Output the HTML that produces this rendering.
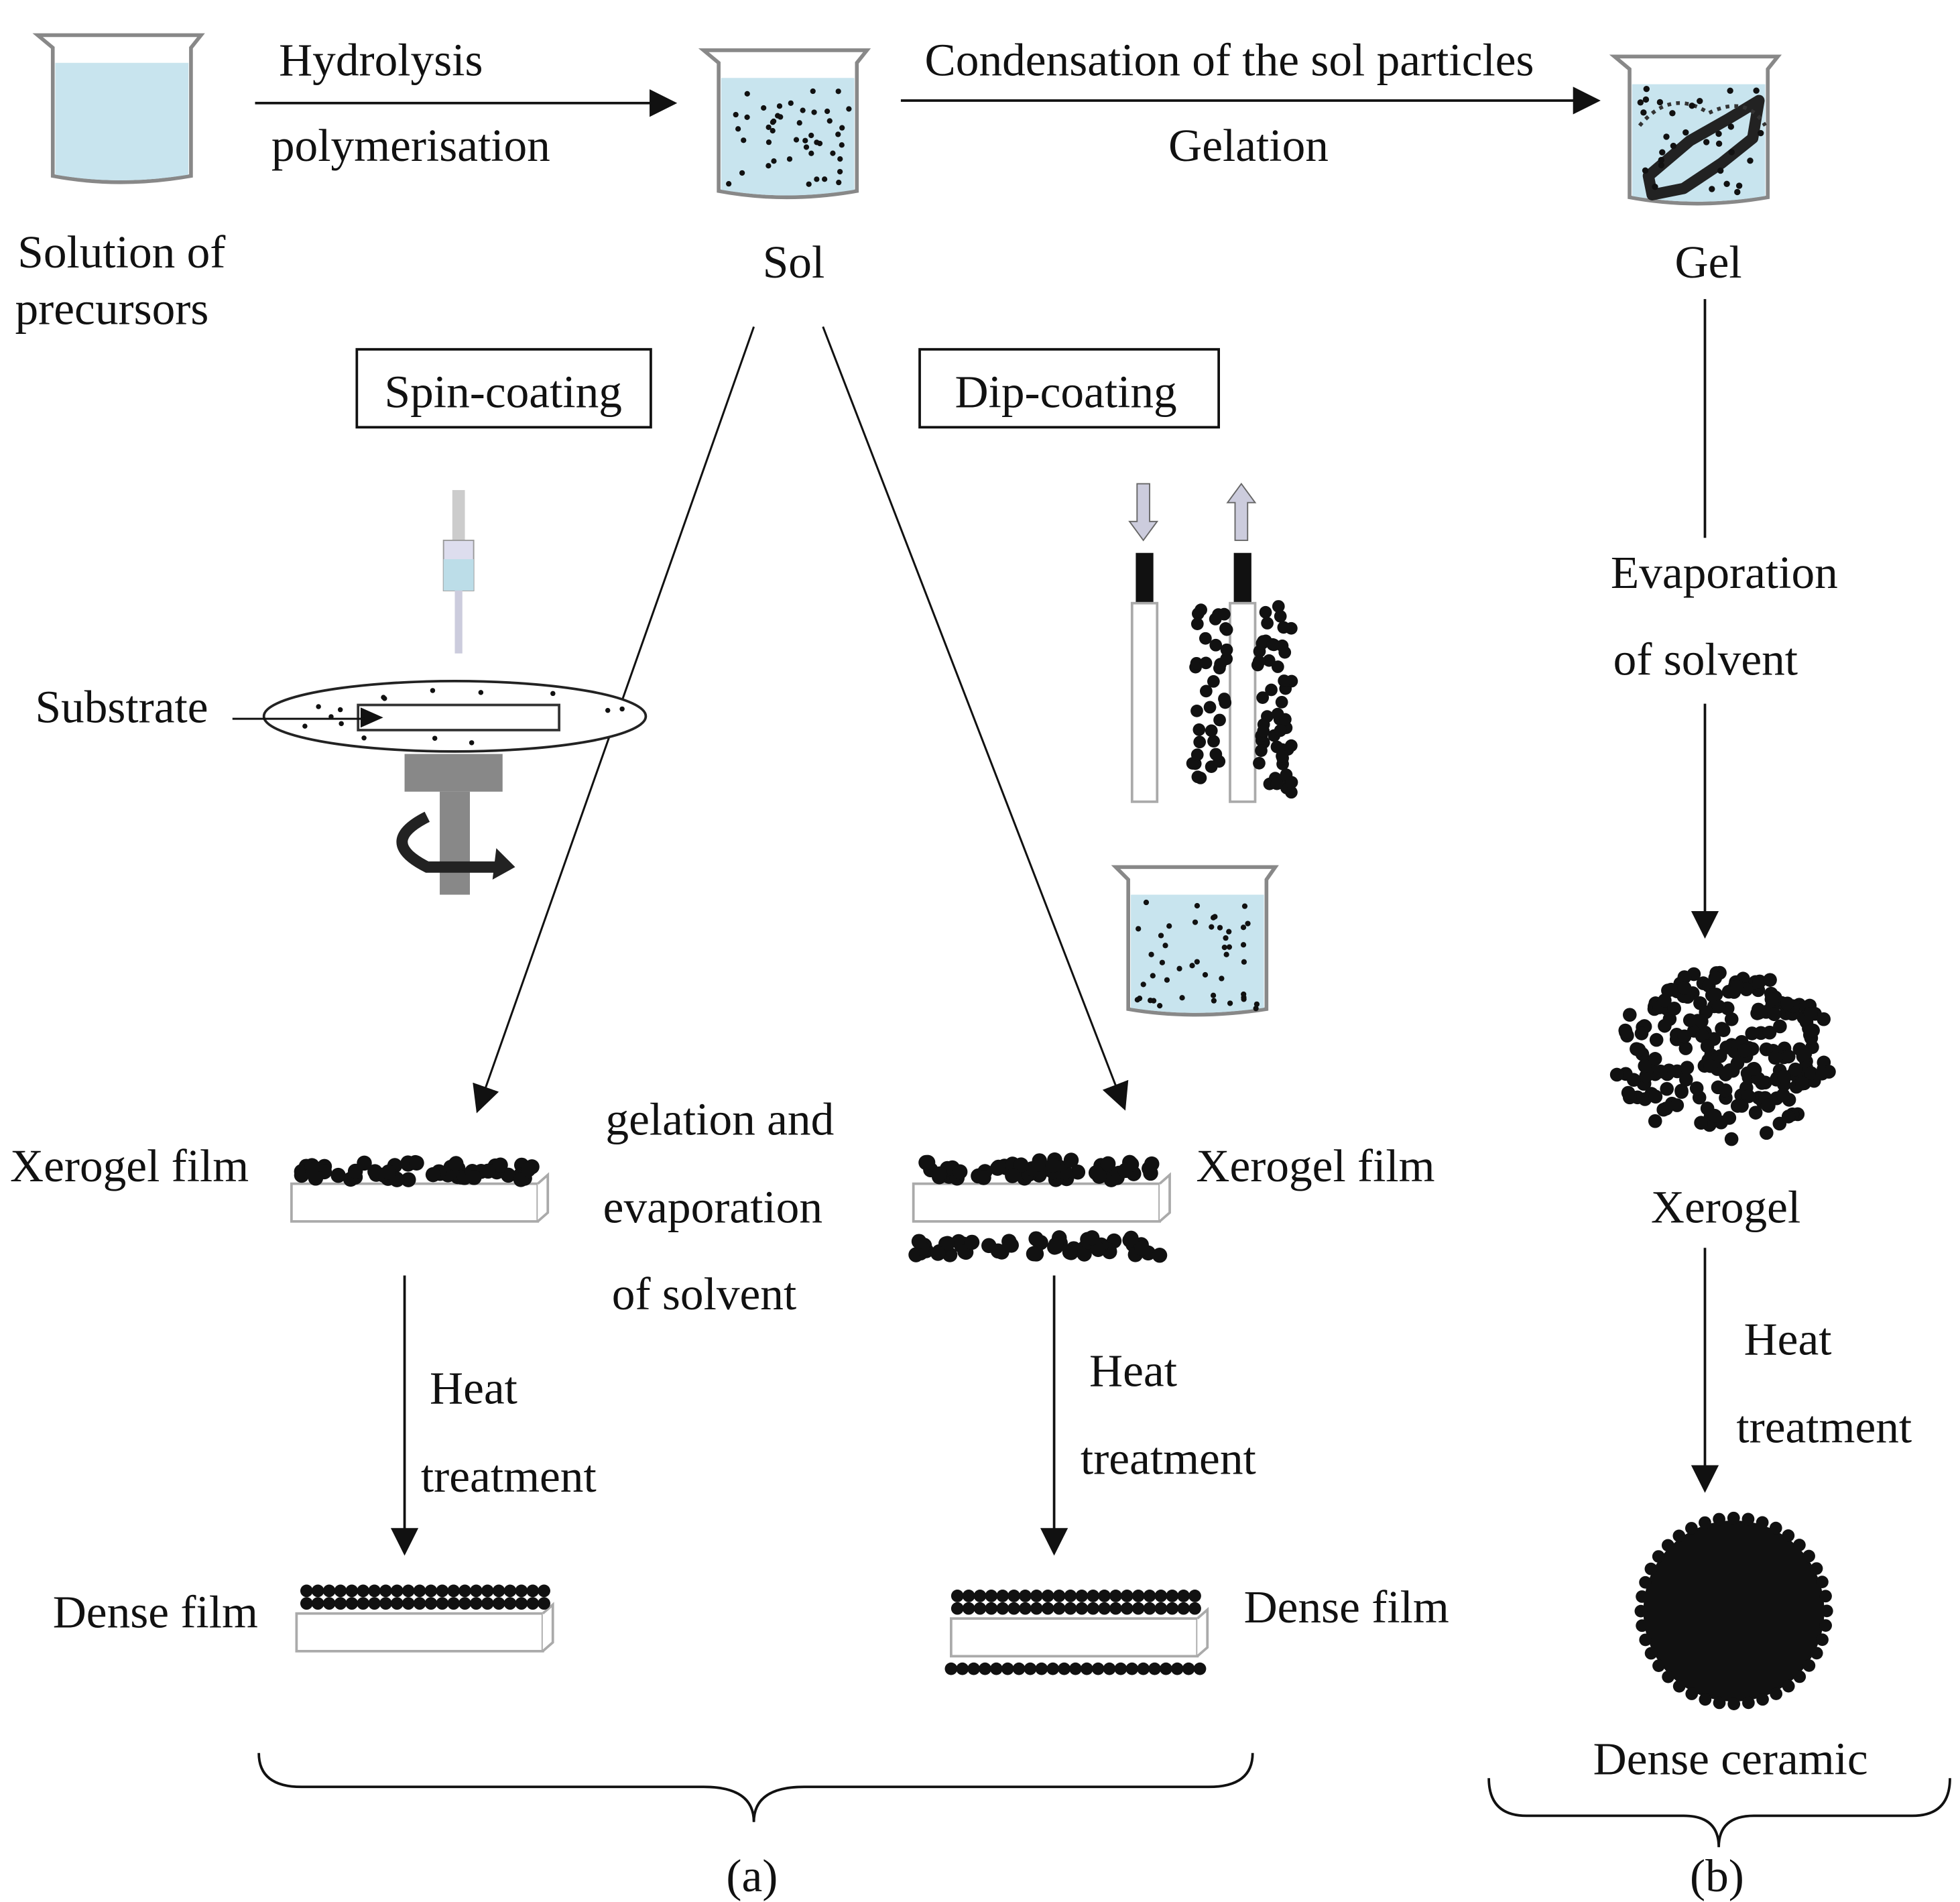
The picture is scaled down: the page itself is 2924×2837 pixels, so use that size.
<!DOCTYPE html>
<html><head><meta charset="utf-8"><style>
html,body{margin:0;padding:0;background:#fff;}
svg{display:block;}
text{font-family:"Liberation Serif",serif;font-size:37px;fill:#111;}
</style></head><body>
<svg id="s" xmlns="http://www.w3.org/2000/svg" width="2924" height="2837" viewBox="0 0 1560 1513.6">
<defs>
<marker id="ar2" markerWidth="22" markerHeight="22" refX="20" refY="11" orient="auto" markerUnits="userSpaceOnUse" viewBox="0 0 22 22"><path d="M0,0 L22,11 L0,22 z" fill="#111"/></marker>
</defs>
<g stroke="#111" stroke-width="2" fill="none">
<line x1="203" y1="82" x2="537" y2="82" marker-end="url(#ar2)"/>
<line x1="717" y1="80" x2="1272" y2="80" marker-end="url(#ar2)"/>
<line x1="600" y1="260" x2="380" y2="884" stroke-width="1.6" marker-end="url(#ar2)"/>
<line x1="655" y1="260" x2="895" y2="882" stroke-width="1.6" marker-end="url(#ar2)"/>
<line x1="1357" y1="238" x2="1357" y2="428"/>
<line x1="1357" y1="560" x2="1357" y2="745" marker-end="url(#ar2)"/>
<line x1="1357" y1="993" x2="1357" y2="1186" marker-end="url(#ar2)"/>
<line x1="322" y1="1015" x2="322" y2="1236" marker-end="url(#ar2)"/>
<line x1="839" y1="1015" x2="839" y2="1236" marker-end="url(#ar2)"/>
<rect x="284" y="278" width="234" height="62"/>
<rect x="732" y="278" width="238" height="62"/>
<path d="M206,1395 Q206,1422 240,1422 L560,1422 Q600,1422 600,1450 Q600,1422 640,1422 L962,1422 Q997,1422 997,1395"/>
<path d="M1185,1415 Q1185,1445 1215,1445 L1340,1445 Q1368,1445 1368,1470 Q1368,1445 1396,1445 L1522,1445 Q1552,1445 1552,1415"/>
</g>
<g stroke="#888" stroke-width="3">
<path d="M30,28 L160,28 L152,38 L152,140 Q95,150 42,140 L42,38 z" fill="#fff"/>
<path d="M44,50 L150,50 L150,139 Q95,148 44,139 z" fill="#c8e4ee" stroke="none"/>
<path d="M560,40 L690,40 L682,50 L682,152 Q625,162 572,152 L572,50 z" fill="#fff"/>
<path d="M574,62 L680,62 L680,151 Q625,160 574,151 z" fill="#c8e4ee" stroke="none"/>
<path d="M1285,45 L1415,45 L1407,55 L1407,157 Q1350,167 1297,157 L1297,55 z" fill="#fff"/>
<path d="M1299,67 L1405,67 L1405,156 Q1350,165 1299,156 z" fill="#c8e4ee" stroke="none"/>
<path d="M888,690 L1015,690 L1008,700 L1008,803 Q950,812 898,803 L898,700 z" fill="#fff"/>
<path d="M900,712 L1006,712 L1006,802 Q950,810 900,802 z" fill="#c8e4ee" stroke="none"/>
</g>
<path d="M1312,140 L1345,112 L1375,95 L1400,80 L1395,110 L1370,130 L1340,150 L1315,155 z" fill="none" stroke="#222" stroke-width="9" stroke-linejoin="round"/>
<path d="M1305,100 Q1330,70 1360,90 Q1390,75 1405,100" fill="none" stroke="#333" stroke-width="3" stroke-dasharray="3 4"/>
<g>
<rect x="360" y="390" width="10" height="40" fill="#ccc"/>
<rect x="353" y="430" width="24" height="40" fill="#dde" stroke="#999"/>
<rect x="353" y="445" width="24" height="25" fill="#bcdde8"/>
<rect x="362" y="470" width="6" height="50" fill="#ccd"/>
<rect x="322" y="600" width="78" height="30" fill="#888"/>
<rect x="350" y="630" width="24" height="82" fill="#888"/>
<path d="M340,650 Q300,670 340,690 L395,690" fill="none" stroke="#222" stroke-width="9"/>
<path d="M395,675 L410,690 L392,700 z" fill="#222"/>
<ellipse cx="362" cy="570" rx="152" ry="28" fill="#fff" stroke="#222" stroke-width="2"/>
<rect x="285" y="561" width="160" height="20" fill="#fff" stroke="#333" stroke-width="2"/>
<path d="M287,563 L305,571 L287,579 z" fill="#111"/>
<line x1="185" y1="572" x2="290" y2="572" stroke="#111" stroke-width="1.6"/>
</g>
<g>
<path d="M905,385 L915,385 L915,415 L921,415 L910,430 L899,415 L905,415 z" fill="#ccd" stroke="#666"/>
<path d="M983,430 L993,430 L993,400 L999,400 L988,385 L977,400 L983,400 z" fill="#ccd" stroke="#666"/>
<rect x="904" y="440" width="14" height="40" fill="#111"/>
<rect x="982" y="440" width="14" height="40" fill="#111"/>
<rect x="901" y="480" width="20" height="158" fill="#fff" stroke="#aaa" stroke-width="2"/>
<rect x="979" y="480" width="20" height="158" fill="#fff" stroke="#aaa" stroke-width="2"/>
</g>
<g fill="#fff" stroke="#aaa" stroke-width="2">
<rect x="232" y="942" width="196" height="30"/><path d="M428,942 L436,935 L436,965 L428,972"/>
<rect x="727" y="942" width="196" height="30"/><path d="M923,942 L931,935 L931,965 L923,972"/>
<rect x="236" y="1284" width="196" height="30"/><path d="M432,1284 L440,1277 L440,1307 L432,1314"/>
<rect x="757" y="1288" width="196" height="30"/><path d="M953,1288 L961,1281 L961,1311 L953,1318"/>
</g>
<g id="dots"></g>
<text x="222" y="60">Hydrolysis</text>
<text x="216" y="128">polymerisation</text>
<text x="736" y="60">Condensation of the sol particles</text>
<text x="930" y="128">Gelation</text>
<text x="14" y="213">Solution of</text>
<text x="12" y="258">precursors</text>
<text x="607" y="221">Sol</text>
<text x="1333" y="221">Gel</text>
<text x="306" y="324">Spin-coating</text>
<text x="760" y="324">Dip-coating</text>
<text x="1282" y="468">Evaporation</text>
<text x="1284" y="537">of solvent</text>
<text x="28" y="575">Substrate</text>
<text x="8" y="940">Xerogel film</text>
<text x="482" y="903">gelation and</text>
<text x="480" y="973">evaporation</text>
<text x="487" y="1042">of solvent</text>
<text x="952" y="940">Xerogel film</text>
<text x="1314" y="973">Xerogel</text>
<text x="342" y="1117">Heat</text>
<text x="335" y="1187">treatment</text>
<text x="867" y="1103">Heat</text>
<text x="860" y="1173">treatment</text>
<text x="1388" y="1078">Heat</text>
<text x="1382" y="1148">treatment</text>
<text x="42" y="1295">Dense film</text>
<text x="990" y="1291">Dense film</text>
<text x="1268" y="1412">Dense ceramic</text>
<text x="578" y="1505">(a)</text>
<text x="1345" y="1505">(b)</text>
</svg>
<script>
(function(){
var g=document.getElementById('dots'),ns='http://www.w3.org/2000/svg',seed=7;
function r(){seed=(seed*16807)%2147483647;return seed/2147483647;}
function c(x,y,rad,fill){var e=document.createElementNS(ns,'circle');e.setAttribute('cx',x);e.setAttribute('cy',y);e.setAttribute('r',rad);e.setAttribute('fill',fill||'#111');g.appendChild(e);}
function grid(x0,y0,w,h,n,rad){for(var i=0;i<n;i++)c(x0+r()*w,y0+r()*h,rad);}
grid(580,68,96,85,45,2.2);
grid(905,718,96,85,45,2.2);
grid(1302,70,100,85,30,2.5);
for(var i=0;i<22;i++){var a=r()*6.28,d=Math.sqrt(r());var x=362+Math.cos(a)*140*d,y=570+Math.sin(a)*22*d;if(y>559&&y<583&&x>283&&x<447)continue;c(x,y,2);}
for(var i=0;i<90;i++){var y=480+r()*160;var side=r()<0.5?-1:1;var x=989+side*(12+r()*28);c(x,y,5);}
for(var i=0;i<230;i++){var a=r()*6.28,d=Math.sqrt(r());c(1372+Math.cos(a)*88*d,840+Math.sin(a)*68*d,5.5);}
c(1380,1282,72);
for(var i=0;i<40;i++){var a=i/40*6.28;c(1380+Math.cos(a)*74,1282+Math.sin(a)*74,5);}
for(var i=0;i<55;i++)c(240+r()*185,925+r()*14,6);
for(var i=0;i<55;i++)c(735+r()*185,923+r()*16,6);
for(var i=0;i<55;i++)c(728+r()*195,985+r()*14,6);
for(var row=0;row<2;row++)for(var i=0;i<22;i++)c(244+i*9,1266+row*10,5);
for(var row=0;row<2;row++)for(var i=0;i<22;i++)c(762+i*9,1270+row*10,5);
for(var i=0;i<23;i++)c(757+i*9,1328,5);
})();
</script>
</body></html>
